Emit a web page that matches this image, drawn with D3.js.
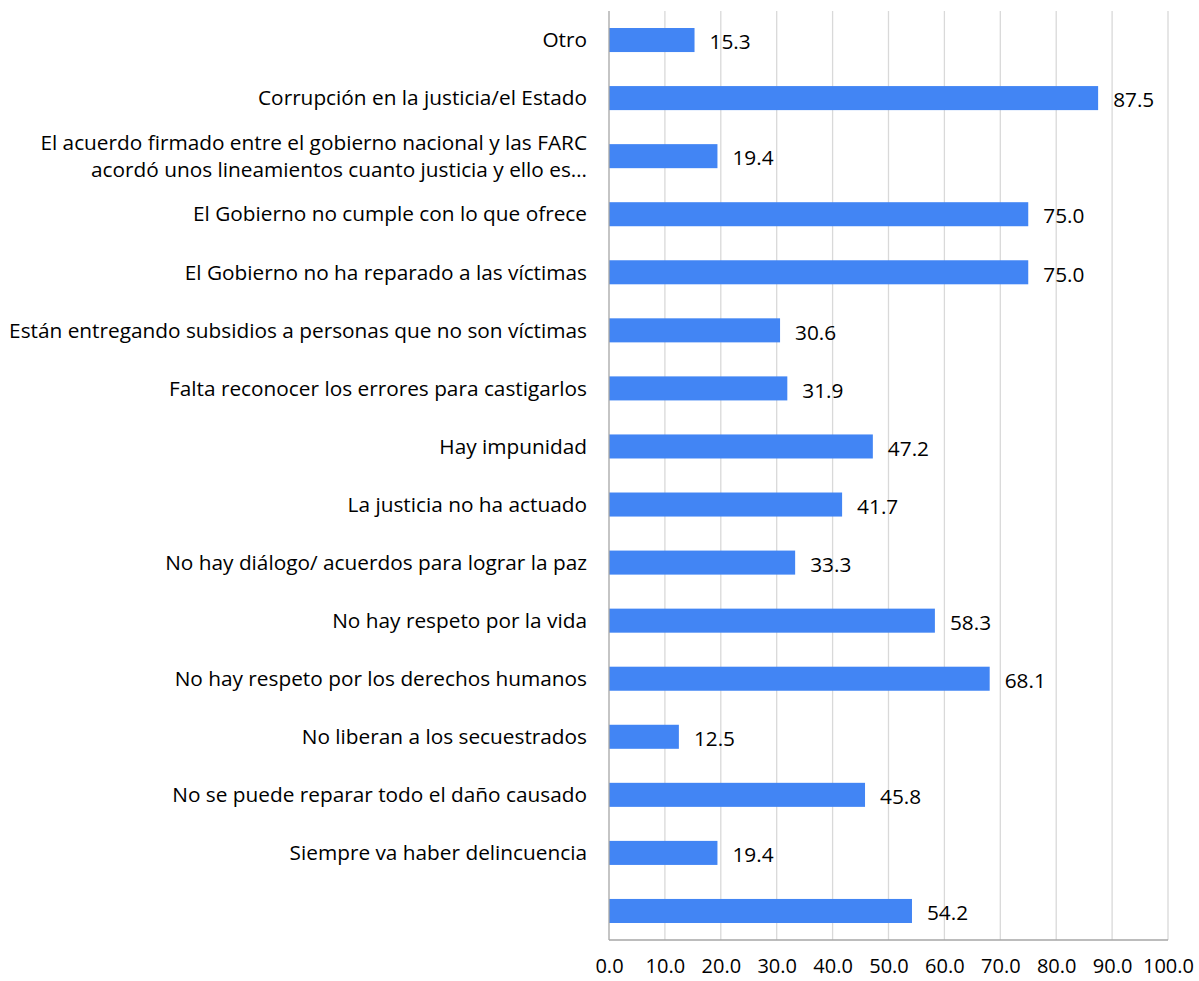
<!DOCTYPE html>
<html>
<head>
<meta charset="utf-8">
<script src="https://cdn.jsdelivr.net/npm/d3@7"></script>
<style>
  body { margin: 0; background: white; }
  svg text { font-family: "Open Sans", Lato, sans-serif; fill: #000; }
</style>
</head>
<body>
<svg id="chart" width="1199" height="981"></svg>
<script>
const categories = [
    "Otro",
    "Corrupción en la justicia/el Estado",
    "El acuerdo firmado entre el gobierno nacional y las FARC|acordó unos lineamientos cuanto justicia y ello es…",
    "El Gobierno no cumple con lo que ofrece",
    "El Gobierno no ha reparado a las víctimas",
    "Están entregando subsidios a personas que no son víctimas",
    "Falta reconocer los errores para castigarlos",
    "Hay impunidad",
    "La justicia no ha actuado",
    "No hay diálogo/ acuerdos para lograr la paz",
    "No hay respeto por la vida",
    "No hay respeto por los derechos humanos",
    "No liberan a los secuestrados",
    "No se puede reparar todo el daño causado",
    "Siempre va haber delincuencia",
    ""
];
const values = [15.3, 87.5, 19.4, 75.0, 75.0, 30.6, 31.9, 47.2, 41.7, 33.3, 58.3, 68.1, 12.5, 45.8, 19.4, 54.2];
const xTicks = [0, 10, 20, 30, 40, 50, 60, 70, 80, 90, 100];

const svg = d3.select("#chart");
const margin = { top: 11, left: 609, right: 31, bottom: 41 };
const width = 1199, height = 981;
const chartWidth = width - margin.left - margin.right;
const chartHeight = height - margin.top - margin.bottom;
const fontSize = "20.8px";

const chart = svg.append("g")
    .attr("transform", `translate(${margin.left}, ${margin.top})`);

const data = categories.map((c, i) => ({ id: i, label: c, value: values[i] }));

const xScale = d3.scaleLinear().domain([0, 100]).range([0, chartWidth]);
const yScale = d3.scaleBand()
    .domain(data.map(d => d.id))
    .range([0, chartHeight])
    .paddingInner(0.586)
    .paddingOuter(0.293);

// gridlines
chart.selectAll(".grid")
    .data(xTicks.slice(1))
    .enter()
    .append("line")
    .attr("x1", d => xScale(d))
    .attr("x2", d => xScale(d))
    .attr("y1", 0)
    .attr("y2", chartHeight)
    .attr("stroke", "#d9d9d9")
    .attr("stroke-width", 1.3);

chart.selectAll("rect")
    .data(data)
    .enter()
    .append("rect")
    .attr("x", 0)
    .attr("y", d => yScale(d.id))
    .attr("width", d => xScale(d.value))
    .attr("height", yScale.bandwidth())
    .attr("fill", "#4285F4");

// value labels
chart.selectAll(".val")
    .data(data)
    .enter()
    .append("text")
    .attr("x", d => xScale(d.value) + 15)
    .attr("y", d => yScale(d.id) + yScale.bandwidth() / 2 + 2)
    .attr("dy", "0.35em")
    .style("font-size", fontSize)
    .text(d => d.value.toFixed(1));

// axis lines
chart.append("line")
    .attr("x1", 0).attr("x2", 0)
    .attr("y1", 0).attr("y2", chartHeight)
    .attr("stroke", "#a6a6a6").attr("stroke-width", 1.3);
chart.append("line")
    .attr("x1", 0).attr("x2", chartWidth)
    .attr("y1", chartHeight).attr("y2", chartHeight)
    .attr("stroke", "#a6a6a6").attr("stroke-width", 1.3);

const xAxis = chart.append("g")
    .attr("transform", `translate(0, ${chartHeight})`)
    .call(d3.axisBottom(xScale).tickValues(xTicks).tickSize(0).tickPadding(19).tickFormat(d => d.toFixed(1)));
xAxis.select(".domain").remove();
xAxis.selectAll("text").style("font-size", "20px").attr("font-family", null);

// category labels
const labels = chart.selectAll(".cat")
    .data(data)
    .enter()
    .append("text")
    .attr("text-anchor", "end")
    .style("font-size", fontSize)
    .attr("x", -22)
    .attr("y", d => yScale(d.id) + yScale.bandwidth() / 2);

labels.each(function(d) {
    const lines = d.label.split("|");
    const el = d3.select(this);
    lines.forEach((ln, j) => {
        el.append("tspan")
            .attr("x", -22)
            .attr("dy", j === 0 ? ((0.35 - (lines.length - 1) * 0.65) + "em") : "1.3em")
            .text(ln);
    });
});
</script>
</body>
</html>
